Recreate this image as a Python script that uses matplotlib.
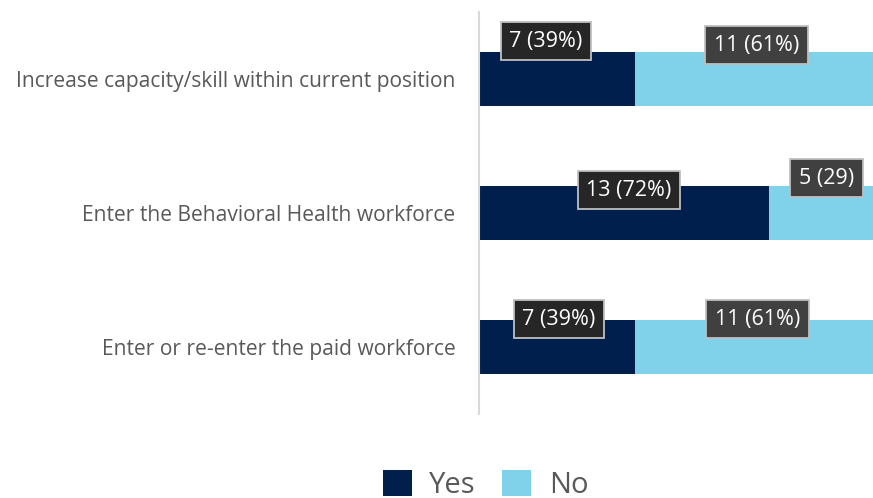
import matplotlib.pyplot as plt

plt.rcParams['font.family'] = ['Open Sans', 'DejaVu Sans']

categories = ['Increase capacity/skill within current position',
              'Enter the Behavioral Health workforce',
              'Enter or re-enter the paid workforce']
yes_counts = [7, 13, 7]
no_counts = [11, 5, 11]
yes_labels = ['7 (39%)', '13 (72%)', '7 (39%)']
no_labels = ['11 (61%)', '5 (29)', '11 (61%)']

yes_color = '#001F4D'
no_color = '#80D2EA'

# nudges (pixels) so the callouts sit where they were placed by hand
yes_offsets = [(-11, 11), (5, -4), (2, 1)]
no_offsets = [(-1, 7), (2, 8), (0, 1)]

fig = plt.figure(figsize=(8.73, 4.98), dpi=100)
ax = fig.add_axes([0.5487, 0.1687, 0.4595, 0.8072])

y = range(len(categories))
h = 0.4
ax.barh(y, yes_counts, height=h, color=yes_color, label='Yes')
ax.barh(y, no_counts, height=h, left=yes_counts, color=no_color, label='No')

ax.set_xlim(0, 18)
ax.set_ylim(2.5, -0.5)
ax.set_xticks([])
ax.set_yticks(list(y))
ax.set_yticklabels(categories, fontsize=15.1, color='#595959')
ax.tick_params(axis='y', length=0, pad=17)
for s in ['top', 'right', 'bottom']:
    ax.spines[s].set_visible(False)
ax.spines['left'].set_color('#D9D9D9')
ax.spines['left'].set_linewidth(1.5)

def callout(x, yy, text, off, fc):
    ax.annotate(text, (x, yy - h / 2), xytext=off, textcoords='offset pixels',
                ha='center', va='center', color='white', fontsize=15.5,
                bbox=dict(boxstyle='square,pad=0.4', fc=fc, ec='#BFBFBF', lw=1.3),
                annotation_clip=False)

for i in y:
    callout(yes_counts[i] / 2, i, yes_labels[i], yes_offsets[i], '#262626')
    callout(yes_counts[i] + no_counts[i] / 2, i, no_labels[i], no_offsets[i], '#404040')

leg = fig.legend(loc='center', bbox_to_anchor=(0.556, 0.027), ncol=2, frameon=False,
                 fontsize=21, handlelength=1.0, handleheight=1.0,
                 handletextpad=0.6, columnspacing=0.9)
for t in leg.get_texts():
    t.set_color('#595959')

fig.savefig('out.png', dpi=100)
